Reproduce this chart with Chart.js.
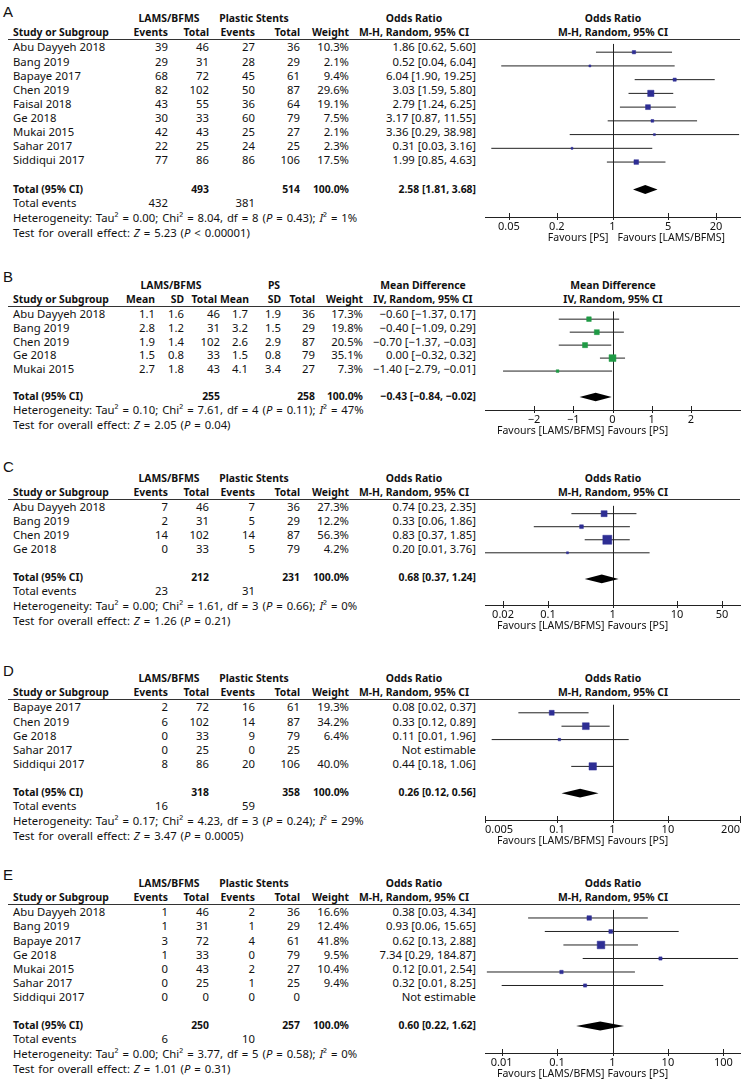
<!DOCTYPE html>
<html lang="en">
<head>
<meta charset="UTF-8">
<title>Forest plots</title>
<script src="https://cdn.jsdelivr.net/npm/chart.js"></script>
<style>
  body { margin: 0; background: #fff; }
  #page { position: relative; width: 754px; height: 1083px; overflow: hidden;
          font-family: 'Noto Sans', sans-serif; font-size: 11.3px; color: #111; }
  .t { position: absolute; white-space: nowrap; line-height: 14px; transform-origin: 0 50%; }
  .b { font-weight: bold; }
  .ws { word-spacing: 1px; }
  .letter { font-family: 'Liberation Sans', Arial, sans-serif; font-size: 15px; line-height: 16px; }
  .hl { position: absolute; height: 1px; background: #333; }
  canvas { position: absolute; }
</style>
</head>
<body>
<div id="page"></div>
<script>
// ---------- A ----------
const studiesA = ['Abu Dayyeh 2018', 'Bang 2019', 'Bapaye 2017', 'Chen 2019', 'Faisal 2018', 'Ge 2018', 'Mukai 2015', 'Sahar 2017', 'Siddiqui 2017'];
const lamsEventsA = [39, 29, 68, 82, 43, 30, 42, 22, 77];
const lamsTotalA = [46, 31, 72, 102, 55, 33, 43, 25, 86];
const psEventsA = [27, 28, 45, 50, 36, 60, 25, 24, 86];
const psTotalA = [36, 29, 61, 87, 64, 79, 27, 25, 106];
const weightA = [10.3, 2.1, 9.4, 29.6, 19.1, 7.5, 2.1, 2.3, 17.5];
const estA = [1.86, 0.52, 6.04, 3.03, 2.79, 3.17, 3.36, 0.31, 1.99];
const lowA = [0.62, 0.04, 1.90, 1.59, 1.24, 0.87, 0.29, 0.03, 0.85];
const highA = [5.60, 6.04, 19.25, 5.80, 6.25, 11.55, 38.98, 3.16, 4.63];
const pooledA = [2.58, 1.81, 3.68];
const sumTotalsA = [493, 514];
const sumEventsA = [432, 381];
const ticksA = [0.05, 0.2, 1, 5, 20];
const hetA = 'Heterogeneity: Tau² = 0.00; Chi² = 8.04, df = 8 (<i>P</i> = 0.43); <i>I</i>² = 1%';
const testA = 'Test for overall effect: <i>Z</i> = 5.23 (<i>P</i> &lt; 0.00001)';

// ---------- B ----------
const studiesB = ['Abu Dayyeh 2018', 'Bang 2019', 'Chen 2019', 'Ge 2018', 'Mukai 2015'];
const lamsMeanB = [1.1, 2.8, 1.9, 1.5, 2.7];
const lamsSdB = [1.6, 1.2, 1.4, 0.8, 1.8];
const lamsTotalB = [46, 31, 102, 33, 43];
const psMeanB = [1.7, 3.2, 2.6, 1.5, 4.1];
const psSdB = [1.9, 1.5, 2.9, 0.8, 3.4];
const psTotalB = [36, 29, 87, 79, 27];
const weightB = [17.3, 19.8, 20.5, 35.1, 7.3];
const estB = [-0.60, -0.40, -0.70, 0.00, -1.40];
const lowB = [-1.37, -1.09, -1.37, -0.32, -2.79];
const highB = [0.17, 0.29, -0.03, 0.32, -0.01];
const pooledB = [-0.43, -0.84, -0.02];
const sumTotalsB = [255, 258];
const ticksB = [-2, -1, 0, 1, 2];
const hetB = 'Heterogeneity: Tau² = 0.10; Chi² = 7.61, df = 4 (<i>P</i> = 0.11); <i>I</i>² = 47%';
const testB = 'Test for overall effect: <i>Z</i> = 2.05 (<i>P</i> = 0.04)';

// ---------- C ----------
const studiesC = ['Abu Dayyeh 2018', 'Bang 2019', 'Chen 2019', 'Ge 2018'];
const lamsEventsC = [7, 2, 14, 0];
const lamsTotalC = [46, 31, 102, 33];
const psEventsC = [7, 5, 14, 5];
const psTotalC = [36, 29, 87, 79];
const weightC = [27.3, 12.2, 56.3, 4.2];
const estC = [0.74, 0.33, 0.83, 0.20];
const lowC = [0.23, 0.06, 0.37, 0.01];
const highC = [2.35, 1.86, 1.85, 3.76];
const pooledC = [0.68, 0.37, 1.24];
const sumTotalsC = [212, 231];
const sumEventsC = [23, 31];
const ticksC = [0.02, 0.1, 1, 10, 50];
const hetC = 'Heterogeneity: Tau² = 0.00; Chi² = 1.61, df = 3 (<i>P</i> = 0.66); <i>I</i>² = 0%';
const testC = 'Test for overall effect: <i>Z</i> = 1.26 (<i>P</i> = 0.21)';

// ---------- D ----------
const studiesD = ['Bapaye 2017', 'Chen 2019', 'Ge 2018', 'Sahar 2017', 'Siddiqui 2017'];
const lamsEventsD = [2, 6, 0, 0, 8];
const lamsTotalD = [72, 102, 33, 25, 86];
const psEventsD = [16, 14, 9, 0, 20];
const psTotalD = [61, 87, 79, 25, 106];
const weightD = [19.3, 34.2, 6.4, null, 40.0];
const estD = [0.08, 0.33, 0.11, null, 0.44];
const lowD = [0.02, 0.12, 0.0066, null, 0.18];
const highD = [0.37, 0.89, 1.96, null, 1.06];
const pooledD = [0.26, 0.12, 0.56];
const sumTotalsD = [318, 358];
const sumEventsD = [16, 59];
const ticksD = [0.005, 0.1, 1, 10, 200];
const hetD = 'Heterogeneity: Tau² = 0.17; Chi² = 4.23, df = 3 (<i>P</i> = 0.24); <i>I</i>² = 29%';
const testD = 'Test for overall effect: <i>Z</i> = 3.47 (<i>P</i> = 0.0005)';

// ---------- E ----------
const studiesE = ['Abu Dayyeh 2018', 'Bang 2019', 'Bapaye 2017', 'Ge 2018', 'Mukai 2015', 'Sahar 2017', 'Siddiqui 2017'];
const lamsEventsE = [1, 1, 3, 1, 0, 0, 0];
const lamsTotalE = [46, 31, 72, 33, 43, 25, 0];
const psEventsE = [2, 1, 4, 0, 2, 1, 0];
const psTotalE = [36, 29, 61, 79, 27, 25, 0];
const weightE = [16.6, 12.4, 41.8, 9.5, 10.4, 9.4, null];
const estE = [0.38, 0.93, 0.62, 7.34, 0.12, 0.32, null];
const lowE = [0.03, 0.06, 0.13, 0.29, 0.0054, 0.01, null];
const highE = [4.34, 15.65, 2.88, 184.87, 2.54, 8.25, null];
const pooledE = [0.60, 0.22, 1.62];
const sumTotalsE = [250, 257];
const sumEventsE = [6, 10];
const ticksE = [0.01, 0.1, 1, 10, 100];
const hetE = 'Heterogeneity: Tau² = 0.00; Chi² = 3.77, df = 5 (<i>P</i> = 0.58); <i>I</i>² = 0%';
const testE = 'Test for overall effect: <i>Z</i> = 1.01 (<i>P</i> = 0.31)';

const page = document.getElementById('page');
const BLUE = '#2e2e94', GREEN = '#1f9a45';
const FAV_L = 'Favours [LAMS/BFMS]', FAV_P = 'Favours [PS]';
const BOLD_SQUEEZE = 0.92;

function fmt(v, d) {
  return (v < 0 ? '\u2212' : '') + Math.abs(v).toFixed(d);
}
function ci(e, l, h) {
  return fmt(e, 2) + ' [' + fmt(l, 2) + ', ' + fmt(h, 2) + ']';
}

function put(x, y, html, align, cls) {
  const d = document.createElement('div');
  d.className = 't ' + (cls || '');
  d.innerHTML = html;
  d.style.left = x + 'px';
  d.style.top = y + 'px';
  const tx = align === 'r' ? '-100%' : align === 'c' ? '-50%' : '0';
  const sx = cls === 'b' ? BOLD_SQUEEZE : 1;
  d.style.transform = 'scaleX(' + sx + ') translate(' + tx + ', -50%)';
  page.appendChild(d);
}

function orPanel(letter, letterY, lineY, axisY, studies, e1, n1, e2, n2, w, est, lo, hi, pooled, sums, events, ticks, het, test, favLeft, favRight, favShift, tickAlign, range) {
  return {
    letter, letterY, lineY, axisY, studies, w, est, lo, hi, pooled, ticks, het, test,
    log: true, ref: 1, color: BLUE, favLeft, favRight, favShift, tickAlign,
    min: range[0], max: range[1],
    colX: [168, 209, 255, 300, 349],
    hdrX: [168, 209, 255, 300, 349],
    groups: [['LAMS/BFMS', 169], ['Plastic Stents', 254]],
    colHdr: ['Events', 'Total', 'Events', 'Total', 'Weight'],
    effHdr: ['Odds Ratio', 'M-H, Random, 95% CI'], effX: 414, plotHdr: ['Odds Ratio', 'M-H, Random, 95% CI'],
    cells: studies.map((s, i) => [e1[i], n1[i], e2[i], n2[i], w[i] == null ? '' : w[i].toFixed(1) + '%']),
    totalCells: ['', sums[0], '', sums[1], '100.0%'],
    eventCells: [events[0], '', events[1], '', ''],
    yMax: studies.length + 3
  };
}

const panels = [
  orPanel('A', 12, 39, 217, studiesA, lamsEventsA, lamsTotalA, psEventsA, psTotalA, weightA, estA, lowA, highA,
          pooledA, sumTotalsA, sumEventsA, ticksA, hetA, testA, FAV_P, FAV_L, [-4, 5], 'center', [0.025, 40]),
  {
    letter: 'B', letterY: 277, lineY: 306, axisY: 410, studies: studiesB, w: weightB, est: estB, lo: lowB, hi: highB,
    pooled: pooledB, ticks: ticksB, het: hetB, test: testB, log: false, ref: 0, color: GREEN,
    favLeft: FAV_L, favRight: FAV_P, favShift: [-8, -5], tickAlign: 'center', min: -3.25, max: 3.25,
    colX: [155, 184, 220, 248, 281, 315, 363],
    hdrX: [155, 184, 217, 249, 281, 315, 363],
    groups: [['LAMS/BFMS', 171], ['PS', 274]],
    colHdr: ['Mean', 'SD', 'Total', 'Mean', 'SD', 'Total', 'Weight'],
    effHdr: ['Mean Difference', 'IV, Random, 95% CI'], effX: 423, plotHdr: ['Mean Difference', 'IV, Random, 95% CI'],
    cells: studiesB.map((s, i) => [lamsMeanB[i].toFixed(1), lamsSdB[i].toFixed(1), lamsTotalB[i],
                                   psMeanB[i].toFixed(1), psSdB[i].toFixed(1), psTotalB[i], weightB[i].toFixed(1) + '%']),
    totalCells: ['', '', sumTotalsB[0], '', '', sumTotalsB[1], '100.0%'],
    eventCells: null,
    yMax: studiesB.length + 2
  },
  orPanel('C', 467, 499, 605, studiesC, lamsEventsC, lamsTotalC, psEventsC, psTotalC, weightC, estC, lowC, highC,
          pooledC, sumTotalsC, sumEventsC, ticksC, hetC, testC, FAV_L, FAV_P, [-8, -5], 'center', [0.0105, 95]),
  orPanel('D', 671, 699, 820, studiesD, lamsEventsD, lamsTotalD, psEventsD, psTotalD, weightD, estD, lowD, highD,
          pooledD, sumTotalsD, sumEventsD, ticksD, hetD, testD, FAV_L, FAV_P, [-8, -5], 'inner', [0.005, 200]),
  orPanel('E', 875, 904, 1053, studiesE, lamsEventsE, lamsTotalE, psEventsE, psTotalE, weightE, estE, lowE, highE,
          pooledE, sumTotalsE, sumEventsE, ticksE, hetE, testE, FAV_L, FAV_P, [-8, -5], 'center', [0.005, 200])
];

const forestPlugin = {
  id: 'forest',
  beforeDatasetsDraw(chart, args, o) {
    const { ctx, chartArea, scales: { x } } = chart;
    const px = x.getPixelForValue(o.ref);
    ctx.save();
    ctx.strokeStyle = '#222';
    ctx.lineWidth = 1;
    ctx.beginPath();
    ctx.moveTo(Math.round(px) + 0.5, chartArea.top);
    ctx.lineTo(Math.round(px) + 0.5, chartArea.bottom);
    ctx.stroke();
    ctx.restore();
  },
  afterDatasetsDraw(chart, args, o) {
    const { ctx, scales: { x, y } } = chart;
    const [e, l, h] = o.pooled;
    ctx.save();
    ctx.fillStyle = '#000';
    ctx.beginPath();
    ctx.moveTo(x.getPixelForValue(l), y.getPixelForValue(o.row));
    ctx.lineTo(x.getPixelForValue(e), y.getPixelForValue(o.row - 0.33));
    ctx.lineTo(x.getPixelForValue(h), y.getPixelForValue(o.row));
    ctx.lineTo(x.getPixelForValue(e), y.getPixelForValue(o.row + 0.33));
    ctx.closePath();
    ctx.fill();
    ctx.restore();
  },
  afterDraw(chart, args, o) {
    const { ctx, chartArea, scales: { x } } = chart;
    const yA = chartArea.bottom;
    ctx.save();
    ctx.strokeStyle = '#222';
    ctx.lineWidth = 1;
    x.ticks.forEach(t => {
      const px = Math.round(x.getPixelForValue(t.value)) + 0.5;
      ctx.beginPath();
      ctx.moveTo(px, yA - 4);
      ctx.lineTo(px, yA + 3);
      ctx.stroke();
    });
    const zero = x.getPixelForValue(o.ref);
    ctx.fillStyle = '#111';
    ctx.font = '10.5px "Noto Sans"';
    ctx.textBaseline = 'middle';
    ctx.textAlign = 'right';
    ctx.fillText(o.favLeft, zero + o.favShift[0], yA + 21);
    ctx.textAlign = 'left';
    ctx.fillText(o.favRight, zero + o.favShift[1], yA + 21);
    ctx.restore();
  }
};

panels.forEach(p => {
  const n = p.studies.length;
  const yMin = -0.6;
  const rowH = (p.axisY - p.lineY) / (p.yMax - yMin);
  const rowY = i => p.lineY + (i - yMin) * rowH;

  // table text
  put(3, p.letterY, p.letter, 'l', 'letter');
  p.groups.forEach(g => put(g[1], p.lineY - 21, g[0], 'c', 'b'));
  put(p.effX, p.lineY - 21, p.effHdr[0], 'c', 'b');
  put(13, p.lineY - 7, 'Study or Subgroup', 'l', 'b');
  p.colHdr.forEach((h, k) => put(p.hdrX[k], p.lineY - 7, h, 'r', 'b'));
  put(p.effX, p.lineY - 7, p.effHdr[1], 'c', 'b');

  const line = document.createElement('div');
  line.className = 'hl';
  line.style.left = '8px';
  line.style.width = '732px';
  line.style.top = p.lineY + 'px';
  page.appendChild(line);

  p.studies.forEach((s, i) => {
    const y = rowY(i);
    put(13, y, s, 'l');
    p.cells[i].forEach((c, k) => put(p.colX[k], y, String(c), 'r'));
    put(476, y, p.est[i] == null ? 'Not estimable' : ci(p.est[i], p.lo[i], p.hi[i]), 'r');
  });

  const yt = rowY(n + 1);
  put(13, yt, 'Total (95% CI)', 'l', 'b');
  p.totalCells.forEach((c, k) => put(p.colX[k], yt, String(c), 'r', 'b'));
  put(476, yt, ci(p.pooled[0], p.pooled[1], p.pooled[2]), 'r', 'b');

  let ye = rowY(n + 2);
  if (p.eventCells) {
    put(13, ye, 'Total events', 'l');
    p.eventCells.forEach((c, k) => put(p.colX[k], ye, String(c), 'r'));
    ye += 15;
  }
  put(13, ye, p.het, 'l', 'ws');
  put(13, ye + 15, p.test, 'l', 'ws');

  // forest plot
  const cv = document.createElement('canvas');
  cv.width = 284;
  cv.height = p.axisY - p.lineY + 32;
  cv.style.left = '470px';
  cv.style.top = p.lineY + 'px';
  page.appendChild(cv);

  const squares = { data: [], pointRadius: [], pointStyle: 'rect',
                    backgroundColor: p.color, borderColor: p.color, borderWidth: 0.5 };
  const whiskers = [];
  p.est.forEach((v, i) => {
    if (v == null) return;
    squares.data.push({ x: v, y: i });
    const side = Math.max(2, 1.3 * Math.sqrt(p.w[i]) - 0.8);
    squares.pointRadius.push(side / 1.414);
    whiskers.push({ data: [{ x: p.lo[i], y: i }, { x: p.hi[i], y: i }], showLine: true,
                    borderColor: '#222', borderWidth: 1, pointRadius: 0 });
  });

  const chart = new Chart(cv, {
    type: 'scatter',
    data: { datasets: [squares, ...whiskers] },
    options: {
      responsive: false,
      animation: false,
      layout: { padding: { left: 15, right: 14, top: 0, bottom: 0 } },
      plugins: {
        legend: { display: false },
        tooltip: { enabled: false },
        forest: { ref: p.ref, pooled: p.pooled, row: n + 1, favLeft: p.favLeft, favRight: p.favRight, favShift: p.favShift }
      },
      scales: {
        x: {
          type: p.log ? 'logarithmic' : 'linear',
          min: p.min, max: p.max,
          grid: { display: false, drawTicks: false },
          border: { display: true, color: '#222', width: 1 },
          ticks: {
            padding: 3, color: '#111', autoSkip: false, maxRotation: 0, align: p.tickAlign,
            font: { family: 'Noto Sans', size: 11 },
            callback: v => (v < 0 ? '\u2212' : '') + Math.abs(v)
          },
          afterBuildTicks: s => { s.ticks = p.ticks.map(v => ({ value: v })); },
          afterFit: s => { s.height = 32; s.paddingLeft = 0; s.paddingRight = 0; }
        },
        y: { type: 'linear', reverse: true, min: yMin, max: p.yMax, display: false }
      }
    },
    plugins: [forestPlugin]
  });

  const zx = 470 + chart.scales.x.getPixelForValue(p.ref);
  put(zx, p.lineY - 21, p.plotHdr[0], 'c', 'b');
  put(zx, p.lineY - 7, p.plotHdr[1], 'c', 'b');
});
</script>
</body>
</html>
